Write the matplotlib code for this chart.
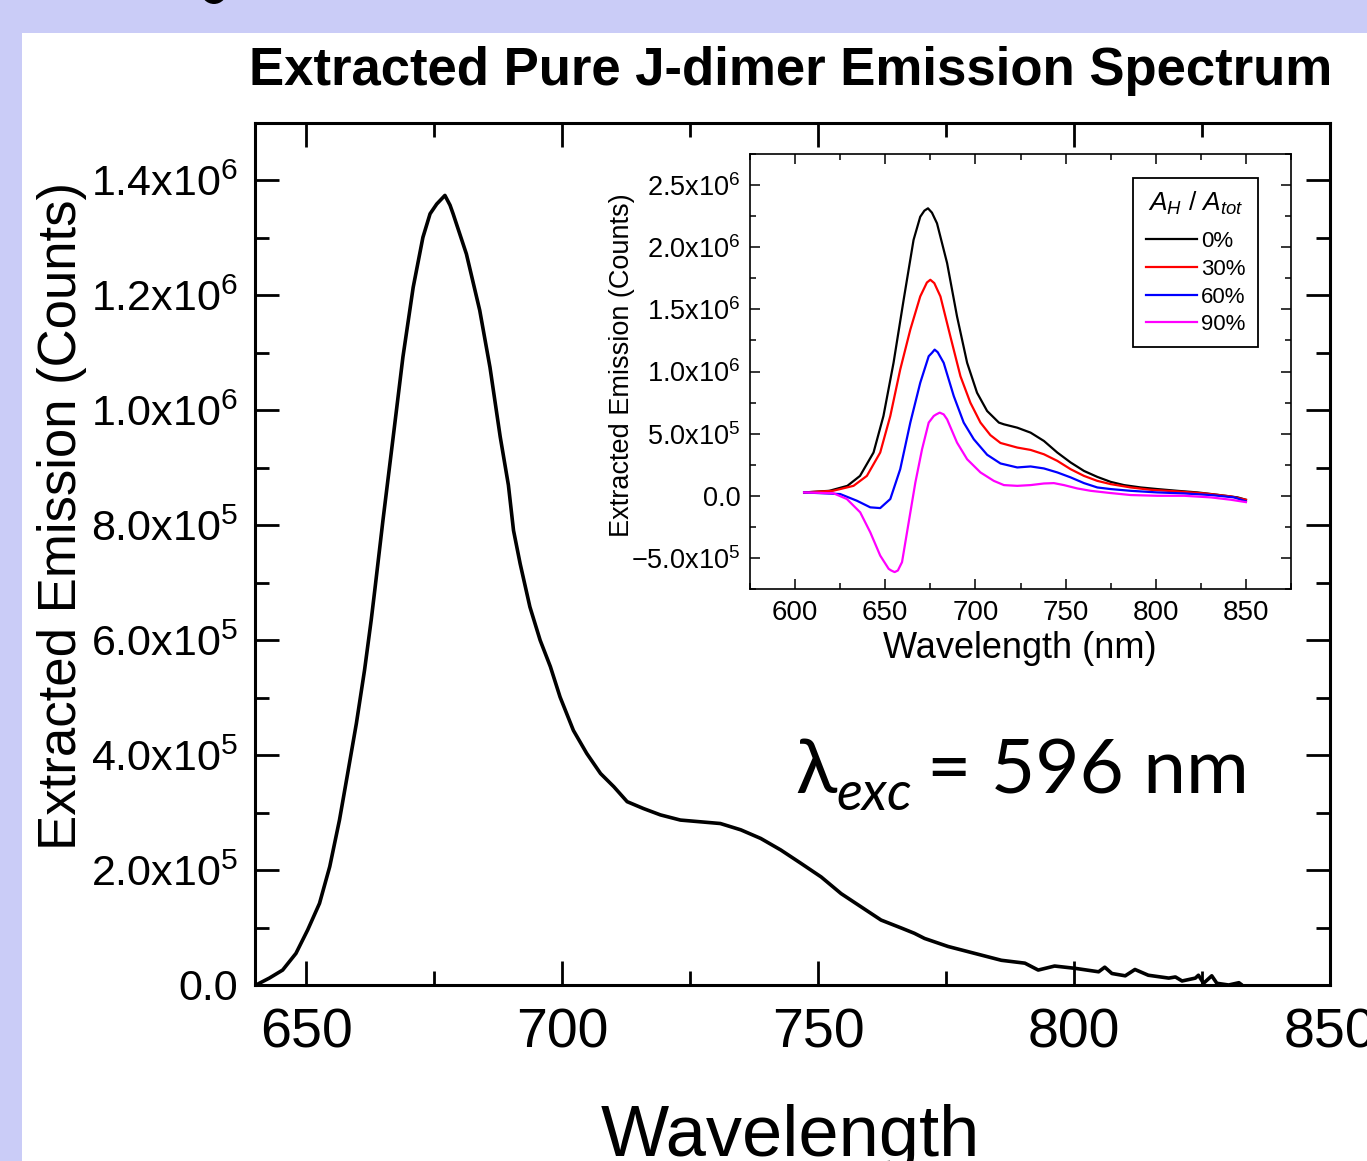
import numpy as np
import matplotlib
matplotlib.use("Agg")
import matplotlib.pyplot as plt
from matplotlib.ticker import MultipleLocator, FuncFormatter, FixedLocator
from matplotlib.patches import Rectangle, Ellipse

plt.rcParams['font.family'] = ['Liberation Sans', 'DejaVu Sans']
plt.rcParams['mathtext.fontset'] = 'custom'
plt.rcParams['mathtext.rm'] = 'Liberation Sans'
plt.rcParams['mathtext.it'] = 'Liberation Sans:italic'
plt.rcParams['mathtext.bf'] = 'Liberation Sans:bold'

# ---------------- data ----------------
# main: extracted pure J-dimer emission (counts, x1e6)
main_wl = [640.2, 642.8, 645.4, 648.0, 650.3, 652.6, 654.6, 656.5, 658.1, 659.8,
           661.4, 662.7, 663.4, 665.0, 667.0, 668.9, 670.9, 672.8, 674.2, 675.5,
           677.1, 678.1, 678.7, 681.3, 683.9, 685.9, 687.9, 689.5, 690.5, 691.8, 693.7,
           695.7, 697.7, 699.6, 702.2, 704.8, 707.5, 710.1, 712.7, 715.9, 719.2,
           723.1, 727.0, 730.9, 734.9, 738.8, 742.7, 746.6, 750.6, 754.5, 758.4,
           762.3, 766.3, 768.8, 770.8, 775.4, 780.6, 785.8, 790.4, 793.0, 796.2,
           800.2, 804.8, 806.0, 807.4, 810.0, 811.9, 814.5, 818.5, 819.8, 821.1,
           823.7, 824.3, 825.3, 826.9, 827.9, 830.2, 832.2, 832.8]
main_em = [0.0, 0.012, 0.026, 0.055, 0.096, 0.142, 0.206, 0.287, 0.368, 0.455,
           0.548, 0.635, 0.687, 0.809, 0.954, 1.093, 1.214, 1.301, 1.342, 1.359,
           1.374, 1.357, 1.342, 1.272, 1.174, 1.075, 0.954, 0.87, 0.791, 0.733, 0.658,
           0.600, 0.554, 0.501, 0.443, 0.403, 0.368, 0.345, 0.319, 0.307, 0.296,
           0.287, 0.284, 0.281, 0.270, 0.255, 0.235, 0.212, 0.188, 0.159, 0.136,
           0.113, 0.099, 0.090, 0.081, 0.067, 0.055, 0.043, 0.038, 0.026, 0.033,
           0.029, 0.023, 0.031, 0.020, 0.016, 0.027, 0.017, 0.012, 0.014, 0.007,
           0.012, 0.017, 0.003, 0.016, 0.003, 0.0, 0.004, 0.0]

# inset series (counts, x1e6) for A_H / A_tot
wl_0 = [605, 619, 629, 636, 643.5, 649, 654.6, 660.2, 665.7, 669.4, 671.7, 673.7, 675.9, 678.7,
        684.3, 689.8, 695.4, 700.9, 706.5, 713, 715.8, 723.2, 730.6, 738, 745.4,
        752.8, 760.2, 767.6, 775, 782.4, 791.7, 800.9, 812, 823.2, 834.3, 845.4, 850]
em_0 = [0.027, 0.04, 0.08, 0.16, 0.348, 0.642, 1.07, 1.577, 2.059, 2.245, 2.294, 2.313, 2.278, 2.192,
        1.872, 1.443, 1.07, 0.829, 0.682, 0.589, 0.575, 0.548, 0.508, 0.441, 0.348,
        0.268, 0.2, 0.152, 0.112, 0.086, 0.067, 0.054, 0.04, 0.027, 0.008, -0.013, -0.032]

wl_30 = [605, 621, 632.4, 639.8, 647.2, 652.8, 658.3, 663.9, 669.4, 673.1, 675, 677.2, 680.6, 686.1,
         691.7, 697.2, 702.8, 708.3, 713.9, 723.2, 730.6, 738, 745.4, 752.8, 760.2,
         767.6, 775, 786.1, 797.2, 812, 826.9, 841.7, 850]
em_30 = [0.027, 0.04, 0.08, 0.16, 0.348, 0.642, 1.016, 1.337, 1.604, 1.716, 1.738, 1.711, 1.604, 1.283,
         0.962, 0.749, 0.589, 0.488, 0.425, 0.388, 0.369, 0.334, 0.281, 0.214, 0.16,
         0.12, 0.094, 0.067, 0.048, 0.035, 0.019, -0.005, -0.032]

wl_60 = [605, 625, 634.3, 641.7, 647.2, 652.8, 658.3, 663.9, 669.4, 674.1, 675.9, 677.4, 679.1, 682.4,
         688, 693.5, 699.1, 706.5, 713.9, 723.2, 730.6, 738, 745.4, 752.8, 760.2, 767.6,
         775, 786.1, 800.9, 815.7, 830.6, 843.5, 850]
em_60 = [0.027, 0.014, -0.04, -0.093, -0.099, -0.026, 0.214, 0.589, 0.909, 1.123, 1.15, 1.176, 1.155, 1.07,
         0.802, 0.589, 0.455, 0.33, 0.26, 0.228, 0.236, 0.22, 0.188, 0.148, 0.102, 0.067,
         0.054, 0.04, 0.027, 0.019, 0.006, -0.013, -0.045]

wl_90 = [605, 621.3, 628.7, 636.1, 641.7, 647.2, 651.9, 653.3, 655.2, 657, 659.3, 663, 666.7, 670.4,
         674.1, 676.9, 678.3, 680.2, 682.4, 684.3, 689.8, 695.4, 702.8, 710.2, 715.8, 723.2, 730.6, 738,
         743.5, 749.1, 756.5, 763.9, 775, 786.1, 800.9, 815.7, 830.6, 841.7, 850]
em_90 = [0.027, 0.02, -0.026, -0.133, -0.294, -0.481, -0.588, -0.601, -0.614, -0.601, -0.534, -0.213, 0.107, 0.374,
         0.589, 0.642, 0.655, 0.669, 0.655, 0.615, 0.428, 0.294, 0.188, 0.12, 0.086, 0.08, 0.086, 0.099,
         0.102, 0.086, 0.059, 0.04, 0.022, 0.006, 0.0, 0.0, -0.013, -0.032, -0.051]

inset_labels = ['0%', '30%', '60%', '90%']
inset_colors = ['#000000', '#FF0000', '#0000FF', '#FF00FF']

# ---------------- figure ----------------
W, H = 1367, 1161
fig = plt.figure(figsize=(W / 100, H / 100), dpi=100)
fig.patch.set_facecolor('#CACCF7')
fig.patches.append(Rectangle((22 / W, 0), 1.0, (H - 33) / H, transform=fig.transFigure,
                             facecolor='white', edgecolor='none', zorder=-2))
fig.patches.append(Ellipse((214 / W, 1 + 9 / H), 26 / W, 26 / H, transform=fig.transFigure,
                           facecolor='black', edgecolor='none', zorder=-1))


def px(x, y):
    return x / W, 1 - y / H


def sci_fmt(v, pos=None):
    if abs(v) < 1e-9:
        return '0.0'
    e = int(np.floor(np.log10(abs(v))))
    m = v / 10 ** e
    return r'$\mathregular{%.1fx10^{%d}}$' % (m, e)


# main axes
ax = fig.add_axes([255 / W, 1 - 985 / H, (1330 - 255) / W, (985 - 123) / H])
ax.set_facecolor('white')
ax.plot(main_wl, np.array(main_em) * 1e6, color='black', lw=2.6,
        solid_joinstyle='round', solid_capstyle='round')
ax.set_xlim(640, 850)
ax.set_ylim(0, 1.5e6)
ax.xaxis.set_major_locator(MultipleLocator(50))
ax.xaxis.set_minor_locator(MultipleLocator(25))
ax.yaxis.set_major_locator(FixedLocator(np.arange(0, 1.41e6, 0.2e6)))
ax.yaxis.set_minor_locator(MultipleLocator(0.1e6))
ax.yaxis.set_major_formatter(FuncFormatter(sci_fmt))
ax.tick_params(which='both', direction='in', top=True, right=True, width=2)
ax.tick_params(which='major', length=17)
ax.tick_params(which='minor', length=10)
ax.tick_params(axis='x', which='major', labelsize=40, pad=16)
ax.tick_params(axis='y', which='major', labelsize=31, pad=12)
for s in ax.spines.values():
    s.set_linewidth(2.2)

fig.text(*px(791, 85), 'Extracted Pure J-dimer Emission Spectrum', ha='center', va='baseline',
         fontsize=38, fontweight='bold')
fig.text(*px(62, 516), 'Extracted Emission (Counts)', rotation=90, ha='center', va='center',
         fontsize=38)
fig.text(*px(790, 1156), 'Wavelength', ha='center', va='baseline', fontsize=52)

# lambda annotation
lato = ['Lato', 'DejaVu Sans']
fig.text(*px(795, 793), 'λ', fontfamily=lato, fontsize=55, va='baseline', ha='left')
fig.text(*px(836, 810), 'exc', fontfamily=lato, fontstyle='italic', fontsize=39,
         va='baseline', ha='left')
fig.text(*px(927, 793), '= 596 nm', fontfamily=lato, fontsize=55, va='baseline', ha='left')

# inset axes
axi = fig.add_axes([750 / W, 1 - 589 / H, 541 / W, 435 / H])
axi.set_facecolor('white')
series = [(wl_0, em_0), (wl_30, em_30), (wl_60, em_60), (wl_90, em_90)]
for (wl, em), lab, col in zip(series, inset_labels, inset_colors):
    axi.plot(wl, np.array(em) * 1e6, color=col, lw=1.6, label=lab, solid_joinstyle='round')
axi.set_xlim(575, 875)
axi.set_ylim(-0.75e6, 2.75e6)
axi.xaxis.set_major_locator(MultipleLocator(50))
axi.xaxis.set_minor_locator(MultipleLocator(25))
axi.xaxis.set_major_formatter(FuncFormatter(lambda v, p: '%d' % v))
axi.yaxis.set_major_locator(MultipleLocator(0.5e6))
axi.yaxis.set_minor_locator(MultipleLocator(0.25e6))
axi.yaxis.set_major_formatter(FuncFormatter(sci_fmt))
axi.tick_params(which='both', direction='in', top=True, right=True, width=1.1)
axi.tick_params(which='major', length=7)
axi.tick_params(which='minor', length=4)
axi.tick_params(axis='x', which='major', labelsize=20, pad=8)
axi.tick_params(axis='y', which='major', labelsize=19.5, pad=7)
for s in axi.spines.values():
    s.set_linewidth(1.2)
fig.text(*px(622, 365), 'Extracted Emission (Counts)', rotation=90, ha='center', va='center',
         fontsize=19.5)
fig.text(*px(1020, 658), 'Wavelength (nm)', ha='center', va='baseline', fontsize=26)

leg = axi.legend(title=r'$A_H$ / $A_{tot}$', loc='upper right', bbox_to_anchor=(0.939, 0.945),
                 borderaxespad=0, fontsize=16, title_fontsize=19, frameon=True, fancybox=False,
                 edgecolor='black', framealpha=1, handlelength=2.3, handletextpad=0.2,
                 labelspacing=0.3, borderpad=0.55)
leg.get_frame().set_linewidth(1.3)
try:
    leg._legend_box.sep = 10
except Exception:
    pass

fig.savefig('out.png', dpi=100, facecolor=fig.get_facecolor())
